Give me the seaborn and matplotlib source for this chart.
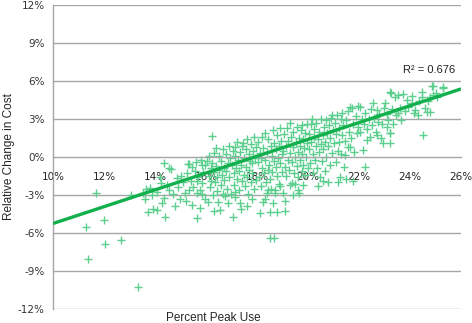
import matplotlib
matplotlib.use("Agg")
import matplotlib.pyplot as plt
from matplotlib.ticker import FuncFormatter
import seaborn as sns
import numpy as np
import pandas as pd

# Percent peak use (x) and relative change in cost (y), both in %
peak_use = [
    11.29, 11.39, 11.67, 12.0, 12.05, 12.65, 13.05, 13.35,
    13.54, 13.65, 13.8, 13.87, 13.74, 13.92, 13.6,
    14.07, 14.07, 14.22, 14.26, 14.37, 14.37, 14.39, 14.46, 14.56, 14.63, 14.7, 14.85, 14.98, 14.9, 14.8, 14.55, 14.2,
    15.02, 15.18, 15.31, 15.5, 15.63, 15.44, 15.63, 15.83, 15.96, 15.76, 15.85, 15.32, 15.1, 15.25, 15.4, 15.55,
    15.6, 15.7, 15.75, 15.9, 15.95, 15.85, 15.2, 15.45, 15.65, 15.8, 15.35,
    16.05, 16.1, 16.12, 16.15, 16.18, 16.2, 16.24, 16.25, 16.28, 16.3, 16.31, 16.33, 16.36, 16.4, 16.42, 16.45,
    16.48, 16.5, 16.52, 16.55, 16.58, 16.6, 16.63, 16.66, 16.7, 16.72, 16.75, 16.78, 16.8, 16.83, 16.86, 16.9,
    16.92, 16.95, 16.98, 16.09, 16.65, 16.38, 16.88, 16.2,
    17.02, 17.05, 17.07, 17.08, 17.1, 17.12, 17.14, 17.14, 17.17, 17.2, 17.22, 17.25, 17.28, 17.3, 17.33, 17.35,
    17.38, 17.4, 17.42, 17.46, 17.48, 17.5, 17.52, 17.55, 17.58, 17.6, 17.62, 17.65, 17.68, 17.7, 17.72, 17.75,
    17.78, 17.79, 17.8, 17.82, 17.85, 17.88, 17.9, 17.92, 17.95, 17.98, 17.36, 17.6, 17.15,
    18.02, 18.05, 18.08, 18.12, 18.12, 18.15, 18.18, 18.2, 18.22, 18.25, 18.28, 18.3, 18.32, 18.35, 18.38, 18.4,
    18.42, 18.45, 18.48, 18.5, 18.51, 18.51, 18.53, 18.55, 18.58, 18.6, 18.62, 18.64, 18.66, 18.67, 18.68, 18.7,
    18.71, 18.73, 18.75, 18.77, 18.78, 18.8, 18.82, 18.85, 18.87, 18.9, 18.9, 18.92, 18.95, 18.97, 18.99, 18.3,
    18.15, 18.45,
    19.02, 19.03, 19.05, 19.08, 19.1, 19.1, 19.12, 19.15, 19.18, 19.2, 19.22, 19.25, 19.28, 19.29, 19.3, 19.33,
    19.36, 19.38, 19.4, 19.42, 19.45, 19.48, 19.5, 19.52, 19.55, 19.58, 19.6, 19.62, 19.64, 19.66, 19.68, 19.7,
    19.72, 19.75, 19.75, 19.78, 19.79, 19.8, 19.82, 19.85, 19.87, 19.9, 19.92, 19.95, 19.97, 19.99, 19.4, 19.6,
    20.02, 20.05, 20.08, 20.1, 20.12, 20.15, 20.18, 20.2, 20.22, 20.25, 20.28, 20.3, 20.33, 20.35, 20.38, 20.4,
    20.42, 20.45, 20.48, 20.5, 20.52, 20.55, 20.58, 20.6, 20.63, 20.65, 20.68, 20.7, 20.72, 20.75, 20.77, 20.8,
    20.83, 20.85, 20.88, 20.9, 20.93, 20.95, 20.98, 20.6,
    21.02, 21.05, 21.08, 21.1, 21.13, 21.16, 21.19, 21.2, 21.23, 21.25, 21.28, 21.3, 21.32, 21.35, 21.38, 21.4,
    21.45, 21.45, 21.49, 21.5, 21.55, 21.58, 21.6, 21.65, 21.65, 21.7, 21.71, 21.75, 21.78, 21.82, 21.88, 21.92,
    21.97, 21.95,
    22.04, 22.05, 22.1, 22.16, 22.2, 22.24, 22.25, 22.3, 22.33, 22.38, 22.43, 22.46, 22.5, 22.56, 22.6, 22.65,
    22.69, 22.69, 22.75, 22.8, 22.85, 22.9, 22.95, 22.98,
    23.02, 23.08, 23.1, 23.15, 23.22, 23.22, 23.22, 23.22, 23.25, 23.3, 23.35, 23.41, 23.45, 23.54, 23.54, 23.61,
    23.65, 23.74, 23.8, 23.93, 23.9,
    24.07, 24.07, 24.15, 24.2, 24.32, 24.35, 24.46, 24.46, 24.52, 24.6, 24.65, 24.72, 24.78, 24.78, 24.88, 24.9,
    24.89,
    25.0, 25.05, 25.31, 25.31,
]
cost_change = [
    -5.52, -8.05, -2.87, -5.0, -6.84, -6.53, -2.97, -10.24,
    -2.81, -2.55, -2.47, -3.0, -4.32, -4.13, -3.3,
    -2.74, -4.18, -2.08, -3.66, -3.26, -0.45, -4.71, -2.2, -0.9, -0.97, -2.9, -1.68, -3.34, -2.4, -3.9, -2.6, -1.6,
    -1.47, -2.87, -0.55, -2.34, -2.87, -3.79, -4.84, -2.08, -0.63, -4.05, -0.63, -0.55, -2.0, -1.3, -1.9, -1.1,
    -0.4, -1.6, -2.6, -1.2, -3.3, -2.9, -3.5, -0.8, -1.9, -0.2, -2.6,
    -0.3, 0.08, -1.5, -2.4, -0.9, -1.9, 1.68, -0.5, -3.0, -1.2, -4.26, 0.3, -2.0, -0.7, -1.6, -2.7,
    -3.53, 0.1, -1.0, -4.18, -2.2, -0.3, -1.4, 0.6, -1.8, -0.9, -3.1, 0.2, -1.1, -2.5, -0.5, 0.9,
    -1.6, -0.1, -2.9, -3.53, -2.9, 0.7, -3.6, -1.1,
    -0.6, 0.5, -4.71, -1.3, -2.2, 0.1, 0.81, -3.13, -0.9, -1.7, 1.2, -0.2, -2.6, -1.1, 0.4, -3.6,
    -0.6, -1.9, 0.9, 1.08, -1.4, -0.1, -2.3, 0.6, -0.8, -1.6, 1.4, -2.9, 0.2, -1.0, -0.3, -2.0,
    1.0, -3.3, -0.5, -1.3, 0.5, -2.5, 1.6, -0.1, -1.8, 0.8, -4.1, -3.9, -2.8,
    -0.4, 1.2, -1.6, -4.45, 0.3, -2.3, 1.6, -0.9, -3.52, 0.7, -1.3, 1.9, -0.2, -2.0, -2.87, 0.4,
    -1.0, 1.4, -0.6, -1.7, -4.31, -6.42, 0.9, -2.5, 0.1, -1.2, 2.1, -3.66, -0.3, -6.42, 1.1, -2.6,
    -2.82, -0.8, 0.6, -4.31, -1.5, 1.7, -0.1, -2.1, 0.9, 2.27, -2.29, -0.5, 1.3, -1.2, 0.2, -3.3,
    -0.1, -2.6,
    0.5, -2.87, 1.8, -0.8, -3.5, -4.3, 0.9, -1.5, 2.3, -0.2, 1.3, -1.0, 0.3, 2.66, -2.2, 1.6,
    -2.08, -0.4, 0.8, 2.0, -1.3, 0.0, -2.1, 1.2, -0.7, 2.4, 0.4, -1.6, 1.5, -2.87, -0.2, 0.9,
    2.1, 2.53, -1.1, 0.2, -2.21, 1.4, -0.6, 0.7, 1.9, -1.4, 0.0, 1.1, 2.6, -0.9, -3.0, -2.6,
    0.6, 1.8, -0.5, 2.6, 1.2, 2.97, -1.3, 0.2, 1.6, 2.2, -0.2, 0.9, 2.7, -0.9, 1.4, -2.29,
    0.4, 2.0, -1.6, 1.0, 3.0, -0.3, 1.7, 0.6, 2.4, -1.1, 1.2, 2.9, 0.0, 1.9, -1.95, 0.9,
    2.5, -0.6, 1.5, 3.1, 3.31, 0.3, 2.1, -1.9,
    1.1, 2.7, -0.4, 1.8, 3.3, 0.5, -1.95, 2.3, 1.2, -1.6, 3.0, 0.2, 3.44, 1.7, 2.5, -0.8,
    0.16, 1.3, -1.76, 2.9, 0.8, 3.6, 2.0, 0.81, 3.97, 1.5, 3.84, -1.87, 2.6, 0.4, 3.2, 1.9,
    4.03, 2.4,
    3.97, 2.0, 3.0, 0.55, 2.6, -0.76, 3.5, 1.34, 2.2, 3.0, 1.6, 3.8, 2.5, 4.23, 3.1, 2.0,
    3.71, 1.74, 2.8, 3.4, 1.5, 2.6, 1.08, 3.9,
    4.23, 2.39, 3.4, 2.9, 1.92, 1.87, 1.08, 5.16, 5.07, 3.8, 2.6, 4.76, 3.3, 4.89, 3.45, 3.84,
    2.9, 4.95, 3.6, 3.97, 4.5,
    4.81, 4.23, 3.5, 3.71, 3.31, 4.4, 5.15, 4.76, 1.74, 3.9, 3.58, 4.42, 4.76, 3.58, 5.6, 4.9,
    5.63,
    5.08, 4.71, 5.42, 5.5,
]

# Linear trendline (y = slope * x + intercept), R^2 label
trend_slope = 0.664
trend_intercept = -11.89
r_squared = 0.676

x_ticks = [10, 12, 14, 16, 18, 20, 22, 24, 26]
y_ticks = [-12, -9, -6, -3, 0, 3, 6, 9, 12]

df = pd.DataFrame({"peak_use": peak_use, "cost_change": cost_change})

sns.set_style("white")
plt.rcParams["font.family"] = ["DejaVu Sans"]

fig = plt.figure(figsize=(4.72, 3.23), dpi=100)
ax = fig.add_axes([53 / 472, 1 - 309 / 323, 408 / 472, 304 / 323])

grid_color = "#a6a6a6"
for yv in y_ticks:
    if yv != 0:
        ax.axhline(yv, color=grid_color, lw=1.0, zorder=0)

sns.scatterplot(data=df, x="peak_use", y="cost_change", marker="+", s=38,
                color="#5ccf8f", linewidth=1.0, ax=ax, zorder=2, legend=False)

ax.set_xlim(x_ticks[0], x_ticks[-1])
ax.set_ylim(y_ticks[0], y_ticks[-1])
xs = np.array(ax.get_xlim())
ax.plot(xs, trend_slope * xs + trend_intercept, color="#12b04c", lw=2.4, zorder=3,
        solid_capstyle="butt")

ax.text(0.985, 0.785, f"R² = {r_squared:.3f}", transform=ax.transAxes, ha="right",
        va="center", fontsize=8, family="Liberation Sans", color="#222222")

ax.set_xticks(x_ticks)
ax.set_yticks(y_ticks)
ax.xaxis.set_major_formatter(FuncFormatter(lambda v, p: f"{v:.0f}%"))
ax.yaxis.set_major_formatter(FuncFormatter(lambda v, p: f"{v:.0f}%"))
ax.tick_params(axis="x", length=5, width=1, color=grid_color, pad=6, labelsize=7.5,
               direction="out")
ax.tick_params(axis="y", length=3, width=1, color=grid_color, pad=3, labelsize=7.5,
               labelcolor="#333333")
for lbl in ax.get_xticklabels():
    lbl.set_fontweight("bold")

for side in ["top", "right"]:
    ax.spines[side].set_visible(False)
ax.spines["bottom"].set_position(("data", 0))
ax.spines["bottom"].set_color(grid_color)
ax.spines["left"].set_color(grid_color)
ax.spines["bottom"].set_linewidth(1.0)
ax.spines["left"].set_linewidth(1.0)

ax.set_xlabel("")
ax.set_ylabel("")
fig.text(213 / 472, 1 - 318 / 323, "Percent Peak Use", ha="center", va="center",
         fontsize=8.5, family="Liberation Sans")
fig.text(9 / 472, 1 - 157 / 323, "Relative Change in Cost", ha="center", va="center",
         rotation=90, fontsize=8.5, family="Liberation Sans")

fig.savefig("out.png", dpi=100)
